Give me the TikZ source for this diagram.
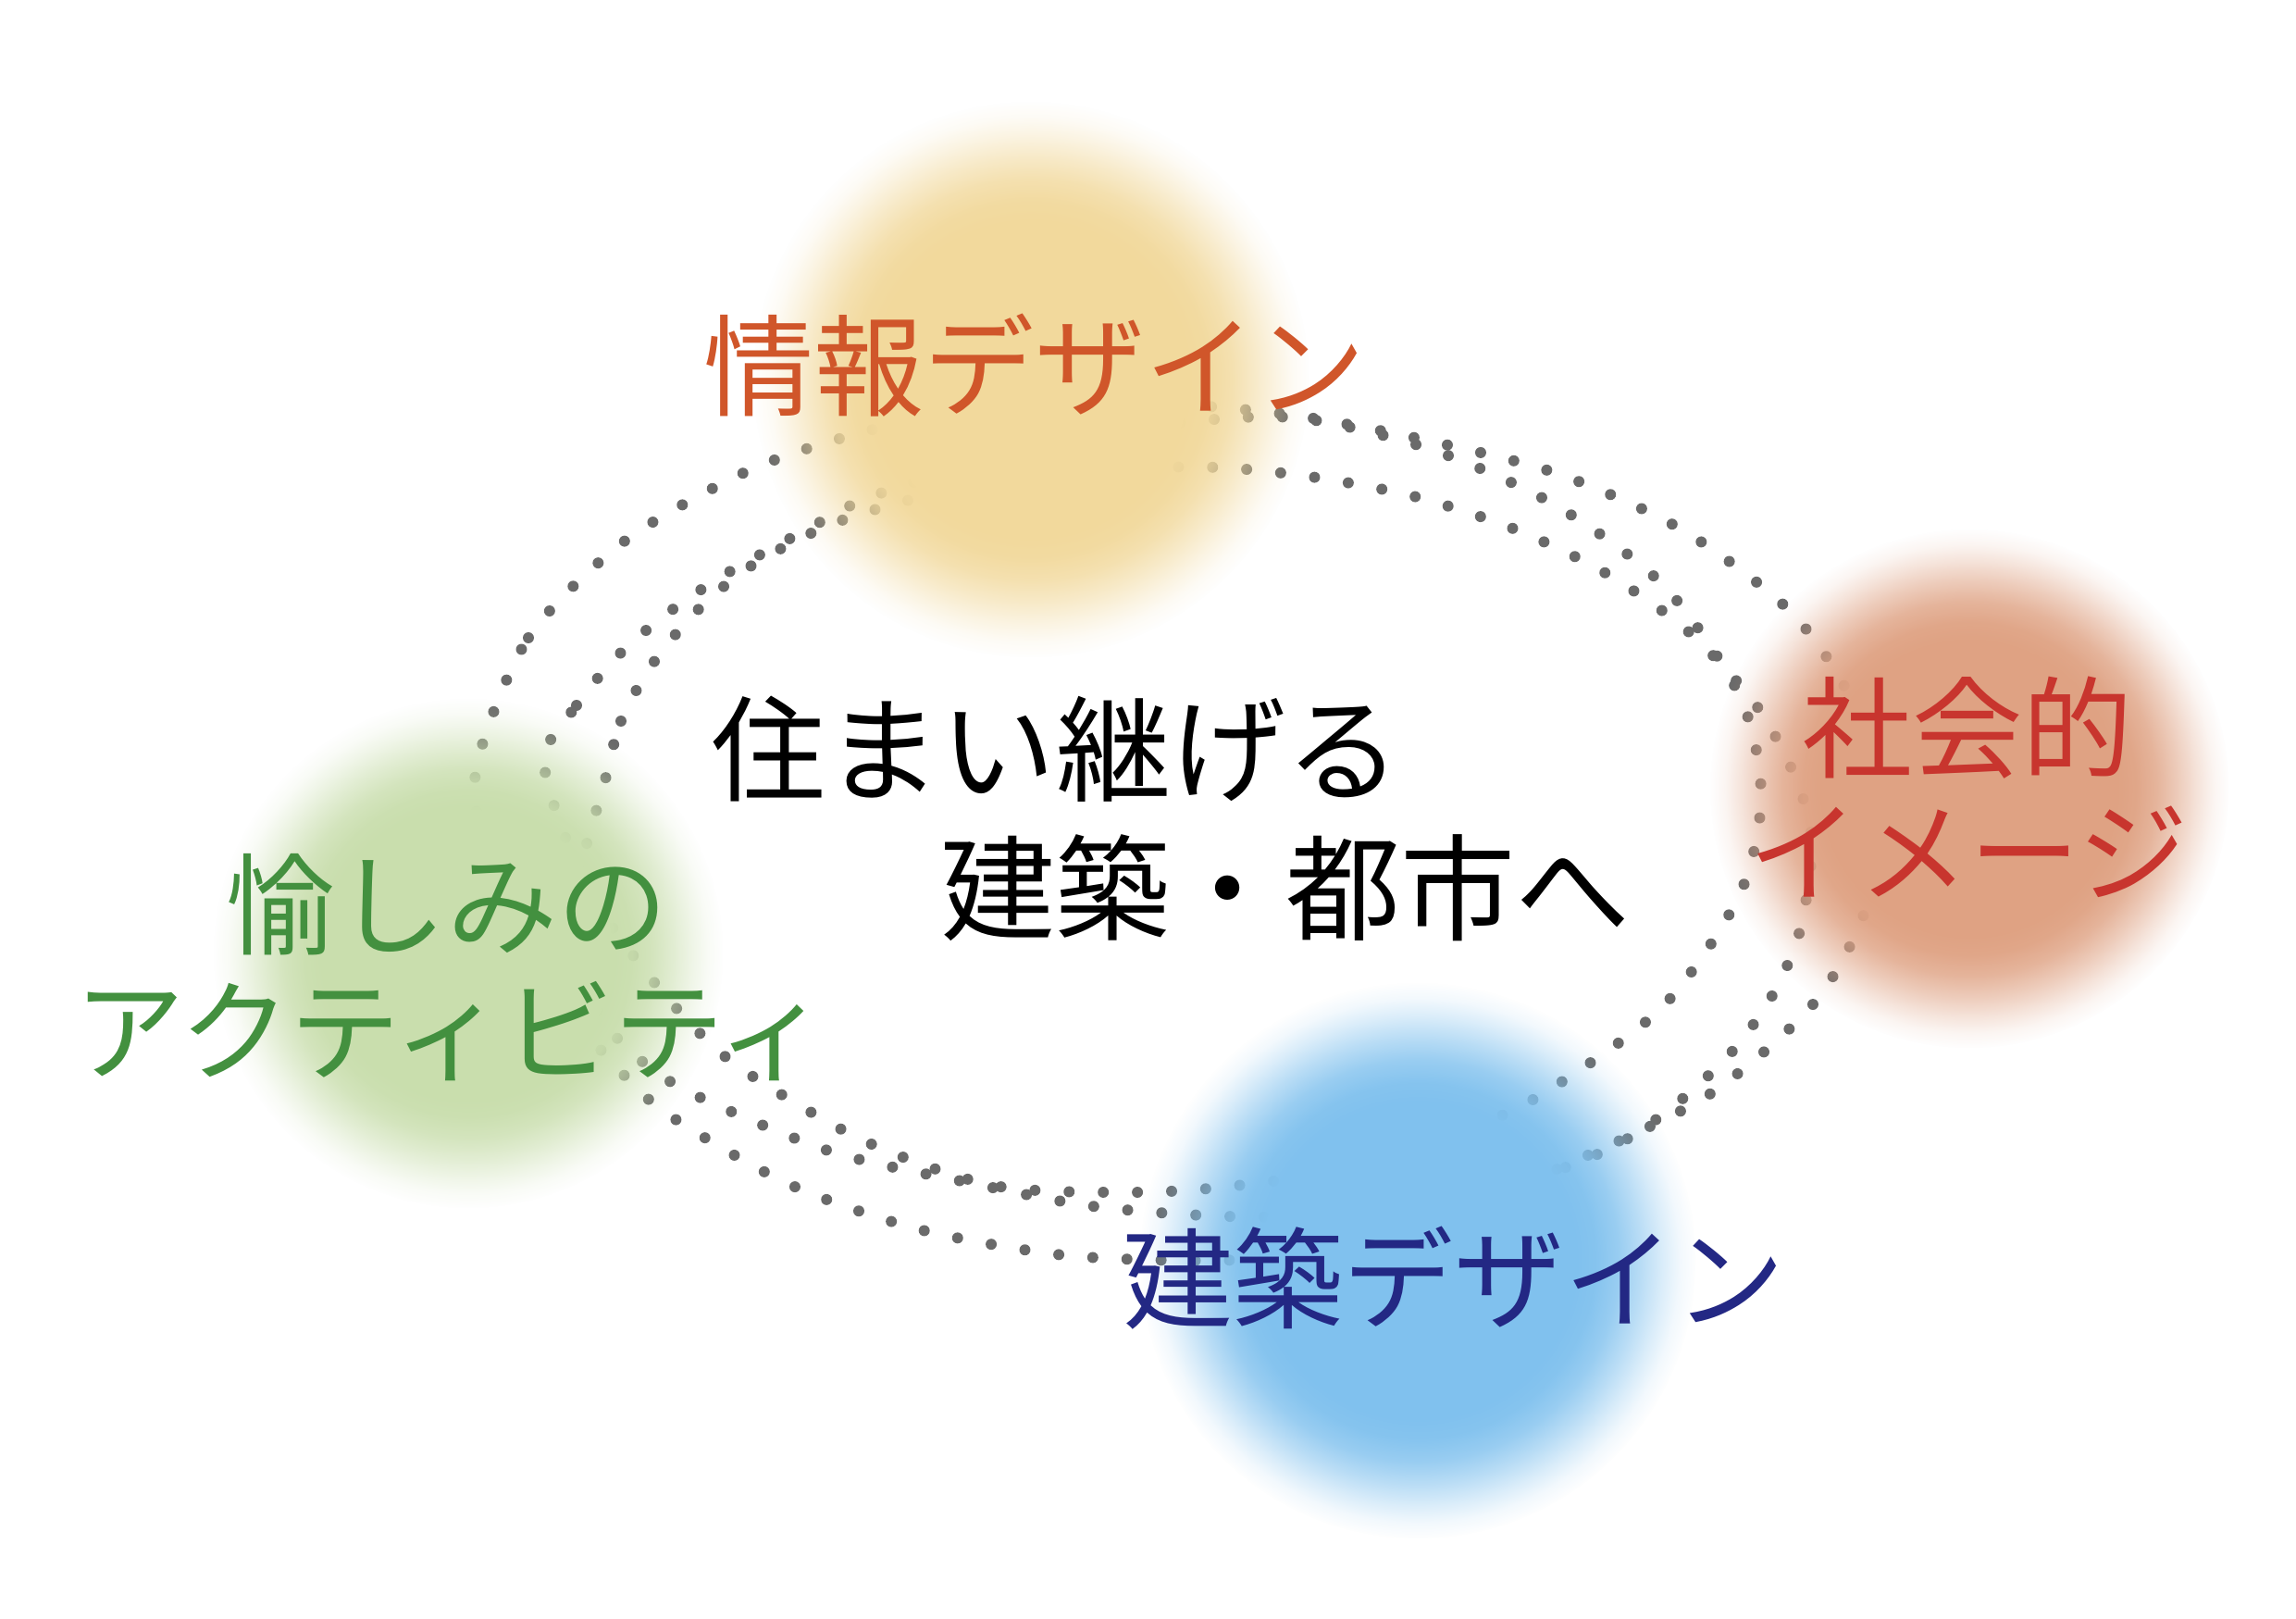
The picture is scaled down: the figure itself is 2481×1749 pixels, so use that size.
\documentclass[tikz,border=0pt]{standalone}
\usepackage{fontspec}
\newfontfamily\jp{Noto Sans CJK JP}
\usetikzlibrary{fadings}
\definecolor{blobY}{HTML}{F2D99C}
\definecolor{blobR}{HTML}{DFA283}
\definecolor{blobG}{HTML}{C9DEAD}
\definecolor{blobB}{HTML}{80C1EE}
\definecolor{txtO}{HTML}{D0562A}
\definecolor{txtR}{HTML}{C8352E}
\definecolor{txtG}{HTML}{43903F}
\definecolor{txtB}{HTML}{232884}
\definecolor{dotgray}{HTML}{6A6A6A}
\pgfdeclareradialshading{blobshade}{\pgfpointorigin}{%
  color(0bp)=(white); color(14bp)=(white); color(16bp)=(white!95!black);
  color(18bp)=(white!80!black); color(20bp)=(white!55!black);
  color(22bp)=(white!28!black); color(23.5bp)=(white!10!black);
  color(25bp)=(black); color(50bp)=(black)}
\pgfdeclarefading{blobfade}{\pgfuseshading{blobshade}}
\tikzset{
  dots/.style={draw=dotgray, line width=3.4pt, line cap=round, dash pattern=on 0pt off 10.5pt},
  blob/.style={path fading=blobfade, fit fading=true},
  lbl/.style={font=\jp\fontsize{33.9pt}{40pt}\selectfont, inner sep=0pt},
  ctr/.style={font=\jp\fontsize{35.3pt}{42pt}\selectfont, inner sep=0pt, anchor=west},
}
\begin{document}
\begin{tikzpicture}[x=0.01cm, y=-0.01cm]
\fill[white] (0,0) rectangle (2481,1749);
\useasboundingbox (0,0) rectangle (2481,1749);
% dotted loops
\draw[dots] plot[smooth cycle] coordinates {(516,823) (571,689) (673,586) (799,513) (900,476) (1020,447) (1160,434) (1290,438) (1407,450) (1543,476) (1684,512) (1817,572) (1934,660) (2000,755) (2035,870) (2015,985) (1959,1085) (1849,1181) (1718,1247) (1600,1297) (1470,1340) (1350,1360) (1242,1361) (1133,1354) (989,1327) (852,1279) (725,1206) (670,1157) (600,1075) (550,990) (520,905)};
\draw[dots] plot[smooth cycle] coordinates {(588,825) (623,762) (670,706) (726,659) (786,619) (870,573) (935,539) (1040,505) (1160,475) (1290,455) (1407,452) (1548,486) (1681,546) (1798,633) (1880,752) (1903,859) (1880,966) (1798,1086) (1681,1173) (1600,1215) (1470,1260) (1335,1281) (1226,1288) (1075,1281) (935,1233) (809,1160) (753,1113) (690,1040) (630,950)};
\draw[dots] plot[smooth cycle] coordinates {(652,850) (671,779) (706,716) (753,660) (809,613) (885,572) (954,548) (1060,522) (1190,507) (1316,505) (1423,516) (1531,537) (1635,571) (1733,618) (1823,681) (1897,761) (1940,840) (1958,910) (1945,1005) (1917,1072) (1876,1131) (1824,1182) (1764,1227) (1700,1258) (1600,1290) (1480,1312) (1325,1314) (1180,1303) (1044,1277) (901,1245) (766,1190) (703,1154) (650,1100) (625,1020) (630,930)};
% blobs
\fill[blobY, blob] (1114,410) circle[radius=3.0cm];
\fill[blobR, blob] (2128,852) circle[radius=2.8cm];
\fill[blobG, blob] (506,1030) circle[radius=2.75cm];
\fill[blobB, blob] (1532,1362) circle[radius=3.0cm];
% labels
\node[lbl, text=txtO] (info) at (1118,395) {情報デザイン};
\node[lbl, text=txtR] (soc1) at (2126,786) {社会的};
\node[lbl, text=txtR] (soc2) at (2127,920) {イメージ};
\node[lbl, text=txtG] (fun1) at (483,977) {愉しみの};
\node[lbl, text=txtG] (fun2) at (488,1114) {アクティビティ};
\node[lbl, text=txtB] (arch) at (1571,1381) {建築デザイン};
\node[ctr] (main1) at (768,809) {住まい継げる};
\node[ctr] (main2) at (1016,959) {建築・都市へ};
\end{tikzpicture}
\end{document}
